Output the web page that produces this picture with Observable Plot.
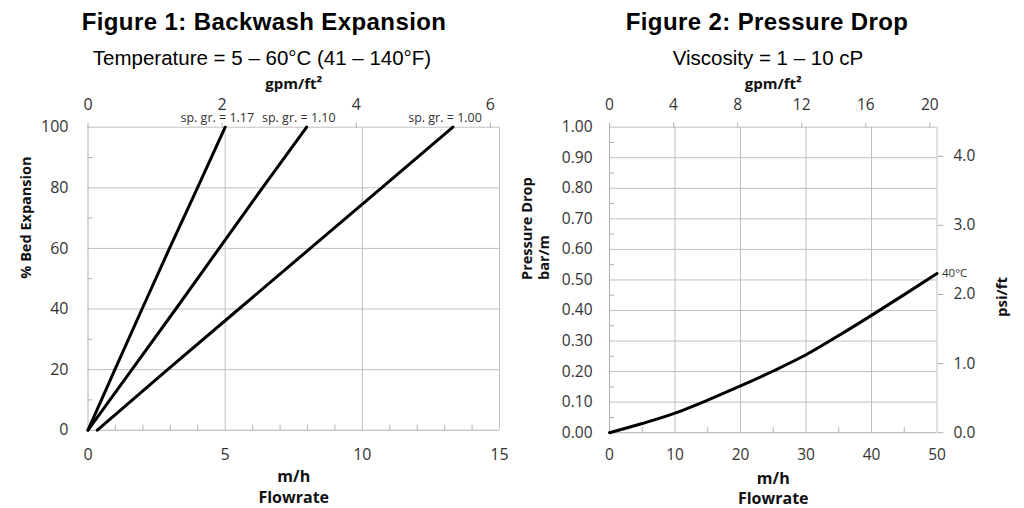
<!DOCTYPE html>
<html><head><meta charset="utf-8">
<script src="https://cdn.jsdelivr.net/npm/d3@7"></script>
<script src="https://cdn.jsdelivr.net/npm/@observablehq/plot@0.6"></script>
<style>
body{margin:0;background:#fff;width:1024px;height:508px;overflow:hidden;position:relative;}
.col{position:absolute;top:0;width:512px;height:508px;}
.head{position:relative;height:70px;}
.title{position:absolute;top:10px;font-family:"Liberation Sans",Arial,sans-serif;font-weight:bold;font-size:24px;line-height:24px;white-space:nowrap;transform:translateX(-50%);color:#000;letter-spacing:0.4px;}
.sub{position:absolute;top:48px;font-family:"Liberation Sans",Arial,sans-serif;font-size:20.5px;line-height:20.5px;white-space:nowrap;transform:translateX(-50%);color:#000;}
svg{display:block;}
</style>
</head><body>
<div class="col" id="c1" style="left:0"><div class="head"><div class="title" style="left:264px">Figure 1: Backwash Expansion</div><div class="sub" style="left:262px">Temperature = 5 – 60°C (41 – 140°F)</div></div></div>
<div class="col" id="c2" style="left:512px"><div class="head"><div class="title" style="left:255px">Figure 2: Pressure Drop</div><div class="sub" style="left:256px">Viscosity = 1 – 10 cP</div></div></div>
<script>
// unit conversions
const MH_PER_GPM = 2.445;      // 1 gpm/ft² = 2.445 m/h
const BAR_PER_PSIFT = 0.2262;  // 1 psi/ft = 0.2262 bar/m

// ---- Figure 1 data ----
const expansion = [0, 20, 40, 60, 80, 100];
const flowSg117 = [0, 0.98, 1.97, 2.97, 3.99, 5.0];
const flowSg110 = [0, 1.6, 3.2, 4.78, 6.36, 7.97];
const flowSg100 = [0.34, 2.9, 5.5, 8.1, 10.7, 13.3];
const sgLabels = ["sp. gr. = 1.17", "sp. gr. = 1.10", "sp. gr. = 1.00"];
const fig1XTicks = [0, 5, 10, 15];
const fig1XMinor = [1, 2, 3, 4, 6, 7, 8, 9, 11, 12, 13, 14];
const fig1YTicks = [0, 20, 40, 60, 80, 100];
const fig1YMinor = [10, 30, 50, 70, 90];
const fig1GpmTicks = [0, 2, 4, 6];

// ---- Figure 2 data ----
const pdFlow = [0, 5, 10, 15, 20, 25, 30, 35, 40, 45, 50];
const pdBar = [0, 0.030, 0.064, 0.107, 0.153, 0.202, 0.255, 0.318, 0.384, 0.452, 0.521];
const pdLabel = "40°C";
const fig2XTicks = [0, 10, 20, 30, 40, 50];
const fig2XMinor = [5, 15, 25, 35, 45];
const fig2YTicks = [0, 0.1, 0.2, 0.3, 0.4, 0.5, 0.6, 0.7, 0.8, 0.9, 1.0];
const fig2YMinor = [0.05, 0.15, 0.25, 0.35, 0.45, 0.55, 0.65, 0.75, 0.85, 0.95];
const fig2GpmTicks = [0, 4, 8, 12, 16, 20];
const fig2PsiTicks = [0, 1, 2, 3, 4];

const GRID = "#c0c0c0", AXIS = "#b0b0b0", TXT = "#333";
const FONT = "'Open Sans', sans-serif";

const series = [];
[flowSg117, flowSg110, flowSg100].forEach((fl, s) => fl.forEach((f, i) => series.push({sg: sgLabels[s], flow: f, exp: expansion[i]})));
const seriesEnds = sgLabels.map(l => series.filter(d => d.sg === l).at(-1));

const lbl = (t, o) => Plot.text([t], {text: d => d, lineAnchor: "middle", fontWeight: "bold", fill: "#111", ...o});

const fig1 = Plot.plot({
  width: 512, height: 438,
  marginLeft: 87.5, marginRight: 13, marginTop: 56.7, marginBottom: 78.3,
  style: {fontFamily: FONT, fontSize: "16px", color: TXT, background: "white", overflow: "visible"},
  x: {domain: [0, 15], axis: null},
  y: {domain: [0, 100], axis: null},
  marks: [
    Plot.gridY(fig1YTicks.slice(1), {stroke: GRID, strokeOpacity: 1}),
    Plot.gridX(fig1XTicks.slice(1), {stroke: GRID, strokeOpacity: 1}),
    Plot.ruleX([0], {stroke: AXIS}),
    Plot.ruleY([0], {stroke: AXIS}),
    Plot.axisX(fig1XMinor, {anchor: "bottom", tickSize: -5, tickFormat: () => "", stroke: AXIS, label: null}),
    Plot.axisY(fig1YMinor, {anchor: "left", tickSize: -5, tickFormat: () => "", stroke: AXIS, label: null}),
    Plot.axisX(fig1XTicks, {anchor: "bottom", tickSize: 0, tickPadding: 18, label: null}),
    Plot.axisY(fig1YTicks, {anchor: "left", tickSize: 0, tickPadding: 19.5, label: null}),
    Plot.axisX(fig1GpmTicks.map(g => g * MH_PER_GPM), {anchor: "top", tickSize: 5, tickPadding: 12, stroke: AXIS, tickFormat: d => String(Math.round(d / MH_PER_GPM)), label: null}),
    Plot.line(series, {x: "flow", y: "exp", z: "sg", stroke: "black", strokeWidth: 3, curve: "linear"}),
    Plot.text(seriesEnds, {x: "flow", y: "exp", text: "sg", textAnchor: "end", dx: 29, dy: -9, fontSize: 12.5, fill: "#333"}),
    lbl("gpm/ft²", {frameAnchor: "top", dy: -43, fontSize: 15}),
    lbl("m/h", {frameAnchor: "bottom", dy: 47, fontSize: 16}),
    lbl("Flowrate", {frameAnchor: "bottom", dy: 68, fontSize: 16}),
    lbl("% Bed Expansion", {frameAnchor: "left", rotate: -90, dx: -61.5, fontSize: 14.5})
  ]
});
document.getElementById("c1").appendChild(fig1);

const pd = pdFlow.map((f, i) => ({flow: f, bar: pdBar[i]}));
const fig2 = Plot.plot({
  width: 512, height: 438,
  marginLeft: 97, marginRight: 87.5, marginTop: 56.7, marginBottom: 75.8,
  style: {fontFamily: FONT, fontSize: "15.5px", color: TXT, background: "white", overflow: "visible"},
  x: {domain: [0, 50], axis: null},
  y: {domain: [0, 1], axis: null},
  marks: [
    Plot.gridY(fig2YTicks.slice(1), {stroke: GRID, strokeOpacity: 1}),
    Plot.gridX(fig2XTicks.slice(1), {stroke: GRID, strokeOpacity: 1}),
    Plot.ruleX([0], {stroke: AXIS}),
    Plot.ruleY([0], {stroke: AXIS}),
    Plot.axisX(fig2XMinor, {anchor: "bottom", tickSize: -5, tickFormat: () => "", stroke: AXIS, label: null}),
    Plot.axisY(fig2YMinor, {anchor: "left", tickSize: -5, tickFormat: () => "", stroke: AXIS, label: null}),
    Plot.axisX(fig2XTicks, {anchor: "bottom", tickSize: 0, tickPadding: 16, label: null}),
    Plot.axisY(fig2YTicks, {anchor: "left", tickSize: 0, tickPadding: 17, tickFormat: d3.format(".2f"), label: null}),
    Plot.axisX(fig2GpmTicks.map(g => g * MH_PER_GPM), {anchor: "top", tickSize: 5, tickPadding: 12, stroke: AXIS, tickFormat: d => String(Math.round(d / MH_PER_GPM)), label: null}),
    Plot.axisY(fig2PsiTicks.map(p => p * BAR_PER_PSIFT), {anchor: "right", tickSize: 6, tickPadding: 10.5, stroke: AXIS, tickFormat: d => (d / BAR_PER_PSIFT).toFixed(1), label: null}),
    Plot.line(pd, {x: "flow", y: "bar", stroke: "black", strokeWidth: 3, curve: "monotone-x"}),
    Plot.text([pd.at(-1)], {x: "flow", y: "bar", text: () => pdLabel, textAnchor: "start", dx: 5, fontSize: 11.5, fill: "#333"}),
    lbl("gpm/ft²", {frameAnchor: "top", dy: -43, fontSize: 15}),
    lbl("m/h", {frameAnchor: "bottom", dy: 46, fontSize: 16}),
    lbl("Flowrate", {frameAnchor: "bottom", dy: 66, fontSize: 16}),
    lbl("Pressure Drop", {frameAnchor: "left", rotate: -90, dx: -82, fontSize: 14.5}),
    lbl("bar/m", {frameAnchor: "left", rotate: -90, dx: -65, fontSize: 14.5}),
    lbl("psi/ft", {frameAnchor: "right", rotate: -90, dx: 65, dy: -3, fontSize: 15})
  ]
});
document.getElementById("c2").appendChild(fig2);
</script>
</body></html>
